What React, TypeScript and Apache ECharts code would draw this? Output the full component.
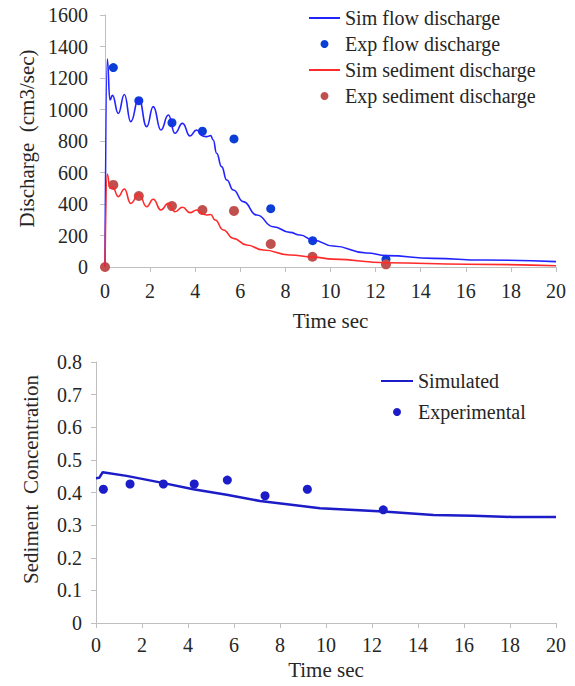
import React, { useEffect, useRef } from "react";
import * as echarts from "echarts";

// ---- Top chart: discharge ----
const simFlowT = [0, 0.1, 0.22, 0.33, 0.59, 0.86, 1.14, 1.5, 1.85, 2.14, 2.48, 2.81, 3.1, 3.44, 3.77, 4.06, 4.36, 4.51, 4.69, 4.8, 4.95, 5.17, 5.4, 5.69, 6.13, 6.73, 7.46, 8.2, 8.65, 9.24, 10.12, 11.6, 12.49, 14.56, 16.78, 20];
const simFlowV = [0, 1320, 1060, 1090, 975, 1095, 923, 1070, 891, 1018, 870, 965, 849, 912, 832, 870, 830, 828, 834, 806, 722, 637, 552, 489, 415, 330, 256, 220, 203, 170, 133, 89, 72, 55, 44, 34];

const simSedT = [0, 0.1, 0.22, 0.33, 0.59, 0.86, 1.14, 1.5, 1.85, 2.14, 2.48, 2.81, 3.1, 3.44, 3.77, 4.06, 4.36, 4.51, 4.69, 4.88, 5.25, 5.69, 6.28, 7.02, 8.2, 9.24, 10.12, 12.49, 16.04, 20];
const simSedV = [0, 590, 500, 510, 447, 495, 404, 463, 383, 430, 362, 404, 351, 379, 345, 362, 335, 330, 333, 298, 235, 182, 140, 108, 76, 63, 50, 27, 17, 8];

const expFlowT = [0.37, 1.5, 2.97, 4.32, 5.72, 7.35, 9.21, 12.46];
const expFlowV = [1266, 1056, 916, 862, 813, 370, 167, 49];

const expSedT = [0, 0.37, 1.5, 2.97, 4.32, 5.72, 7.35, 9.2, 12.46];
const expSedV = [0, 521, 451, 387, 362, 356, 146, 65, 17];

// ---- Bottom chart: sediment concentration ----
const simConcT = [0, 0.14, 0.29, 1.33, 2.78, 4.23, 5.68, 7.13, 8.58, 9.74, 12.49, 14.67, 16.4, 18.1, 20];
const simConcV = [0.444, 0.445, 0.462, 0.451, 0.431, 0.41, 0.393, 0.374, 0.362, 0.352, 0.342, 0.331, 0.329, 0.325, 0.325];

const expConcT = [0.32, 1.48, 2.93, 4.27, 5.71, 7.35, 9.19, 12.49];
const expConcV = [0.41, 0.426, 0.426, 0.426, 0.438, 0.39, 0.41, 0.347];

const pair = (t: number[], v: number[]) => t.map((x, i) => [x, v[i]]);

const FONT = "Liberation Serif";
const TXT = "#262626";
const AXIS = "#bfbfbf";

export default function App() {
  const ref = useRef<HTMLDivElement>(null);
  useEffect(() => {
    if (!ref.current) return;
    const chart = echarts.init(ref.current, null, { renderer: "svg" });
    const axisCommon = {
      axisLine: { show: true, lineStyle: { color: AXIS, width: 1 } },
      axisTick: { show: true, length: 5, lineStyle: { color: AXIS } },
      splitLine: { show: false },
      nameLocation: "middle" as const,
      nameTextStyle: { fontFamily: FONT, fontSize: 21, color: TXT },
    };
    const labelStyle = (margin: number, size: number) => ({
      fontFamily: FONT,
      fontSize: size,
      color: TXT,
      margin,
      formatter: (v: number) => String(Math.round(v * 1000) / 1000),
    });
    const hideDot = { itemStyle: { opacity: 0 } };
    chart.setOption({
      animation: false,
      backgroundColor: "#ffffff",
      textStyle: { fontFamily: FONT },
      grid: [
        { left: 105, right: 19, top: 15, bottom: 419, containLabel: false },
        { left: 96, right: 19, top: 362, bottom: 63, containLabel: false },
      ],
      xAxis: [
        { ...axisCommon, gridIndex: 0, type: "value", min: 0, max: 20, interval: 2, name: "Time sec", nameGap: 43, axisLabel: labelStyle(14, 20) },
        { ...axisCommon, gridIndex: 1, type: "value", min: 0, max: 20, interval: 2, name: "Time sec", nameGap: 36, axisLabel: labelStyle(12, 20) },
      ],
      yAxis: [
        {
          ...axisCommon,
          gridIndex: 0,
          type: "value",
          min: 0,
          max: 1600,
          interval: 200,
          name: "Discharge  (cm3/sec)",
          nameGap: 68,
          nameTextStyle: { ...axisCommon.nameTextStyle, padding: [0, 0, 0, 5] },
          axisLabel: labelStyle(17, 20),
        },
        {
          ...axisCommon,
          gridIndex: 1,
          type: "value",
          min: 0,
          max: 0.8,
          interval: 0.1,
          name: "Sediment  Concentration",
          nameGap: 55,
          nameTextStyle: { ...axisCommon.nameTextStyle, padding: [0, 0, 0, 26] },
          axisLabel: labelStyle(14, 20),
        },
      ],
      legend: [
        {
          left: 308, top: 8, orient: "vertical", padding: 0, itemWidth: 31, itemHeight: 8, itemGap: 6,
          textStyle: { fontFamily: FONT, fontSize: 20, color: TXT },
          data: [
            { name: "Sim flow discharge", ...hideDot },
            { name: "Exp flow discharge", icon: "circle" },
            { name: "Sim sediment discharge", ...hideDot },
            { name: "Exp sediment discharge", icon: "circle" },
          ],
        },
        {
          left: 380, top: 371, orient: "vertical", padding: 0, itemWidth: 32, itemHeight: 8, itemGap: 11,
          textStyle: { fontFamily: FONT, fontSize: 20, color: TXT },
          data: [{ name: "Simulated", ...hideDot }, { name: "Experimental", icon: "circle" }],
        },
      ],
      series: [
        { name: "Sim flow discharge", type: "line", xAxisIndex: 0, yAxisIndex: 0, data: pair(simFlowT, simFlowV), symbol: "none", smooth: 0.5, smoothMonotone: "x", lineStyle: { color: "#2323ff", width: 1.6 }, itemStyle: { color: "#2323ff" } },
        { name: "Exp flow discharge", type: "scatter", xAxisIndex: 0, yAxisIndex: 0, data: pair(expFlowT, expFlowV), symbol: "circle", symbolSize: 9, clip: false, itemStyle: { color: "#0a3ed4", opacity: 1 } },
        { name: "Sim sediment discharge", type: "line", xAxisIndex: 0, yAxisIndex: 0, data: pair(simSedT, simSedV), symbol: "none", smooth: 0.5, smoothMonotone: "x", lineStyle: { color: "#ff2a2a", width: 1.6 }, itemStyle: { color: "#ff2a2a" } },
        { name: "Exp sediment discharge", type: "scatter", xAxisIndex: 0, yAxisIndex: 0, data: pair(expSedT, expSedV), symbol: "circle", symbolSize: 10, clip: false, itemStyle: { color: "#c0504d", opacity: 1 } },
        { name: "Simulated", type: "line", xAxisIndex: 1, yAxisIndex: 1, data: pair(simConcT, simConcV), symbol: "none", lineStyle: { color: "#1c1cc8", width: 2.5 }, itemStyle: { color: "#1c1cc8" } },
        { name: "Experimental", type: "scatter", xAxisIndex: 1, yAxisIndex: 1, data: pair(expConcT, expConcV), symbol: "circle", symbolSize: 9, clip: false, itemStyle: { color: "#1c1cc8", opacity: 1 } },
      ],
    });
    return () => chart.dispose();
  }, []);
  return (
    <div
      ref={ref}
      style={{ position: "absolute", left: 0, top: 0, width: 575, height: 686, background: "#fff" }}
    />
  );
}
